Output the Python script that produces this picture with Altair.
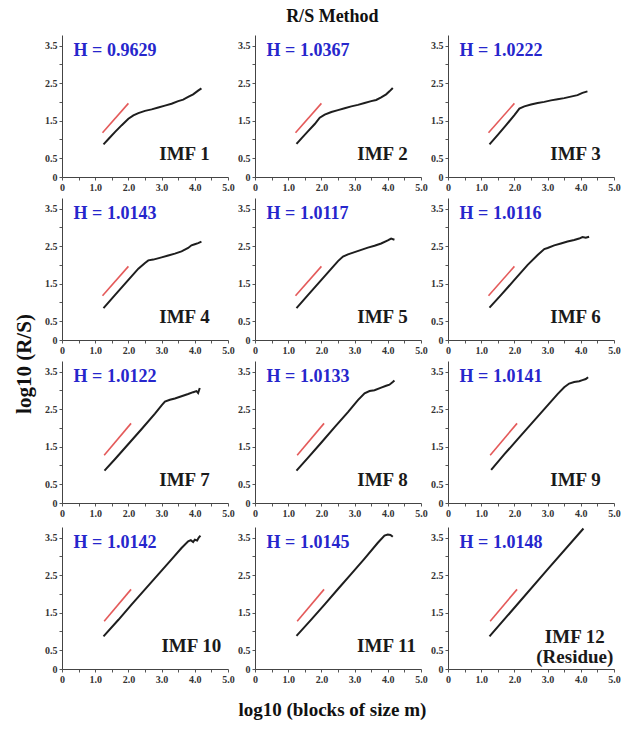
import altair as alt
import pandas as pd

FONT = "Liberation Serif"

h_values = ["0.9629", "1.0367", "1.0222", "1.0143", "1.0117", "1.0116",
            "1.0122", "1.0133", "1.0141", "1.0142", "1.0145", "1.0148"]
imf_labels = ["IMF 1", "IMF 2", "IMF 3", "IMF 4", "IMF 5", "IMF 6",
              "IMF 7", "IMF 8", "IMF 9", "IMF 10", "IMF 11", "IMF 12\n(Residue)"]

curve_x = [
    [1.25, 1.4, 1.6, 1.8, 2.0, 2.15, 2.3, 2.5, 2.7, 2.9, 3.1, 3.3, 3.5, 3.65, 3.8, 3.95, 4.1, 4.2],
    [1.25, 1.4, 1.6, 1.8, 1.95, 2.1, 2.3, 2.5, 2.7, 2.9, 3.1, 3.3, 3.5, 3.65, 3.8, 3.95, 4.05, 4.15],
    [1.25, 1.5, 1.75, 2.0, 2.15, 2.3, 2.5, 2.7, 2.9, 3.1, 3.3, 3.5, 3.7, 3.9, 4.05, 4.2],
    [1.25, 1.6, 2.0, 2.3, 2.5, 2.6, 2.75, 3.0, 3.2, 3.4, 3.6, 3.8, 3.9, 4.0, 4.1, 4.2],
    [1.25, 1.6, 2.0, 2.3, 2.5, 2.65, 2.8, 3.0, 3.2, 3.4, 3.6, 3.8, 4.0, 4.1, 4.2],
    [1.25, 1.6, 2.0, 2.4, 2.7, 2.9, 3.0, 3.2, 3.4, 3.6, 3.8, 3.95, 4.05, 4.15, 4.25],
    [1.28, 1.6, 2.0, 2.4, 2.8, 3.0, 3.1, 3.25, 3.4, 3.6, 3.8, 3.95, 4.05, 4.1, 4.15],
    [1.25, 1.6, 2.0, 2.4, 2.8, 3.1, 3.3, 3.45, 3.6, 3.8, 3.95, 4.05, 4.15, 4.2],
    [1.3, 1.7, 2.1, 2.5, 2.9, 3.3, 3.5, 3.65, 3.8, 3.95, 4.05, 4.15, 4.22],
    [1.25, 1.7, 2.1, 2.5, 2.9, 3.3, 3.6, 3.8, 3.88, 3.95, 4.0, 4.07, 4.12, 4.17],
    [1.25, 1.7, 2.1, 2.5, 2.9, 3.3, 3.7, 3.9, 4.0, 4.08, 4.15],
    [1.25, 2.0, 3.0, 4.08],
]
curve_y = [
    [0.87, 1.01, 1.2, 1.38, 1.55, 1.64, 1.7, 1.76, 1.8, 1.85, 1.9, 1.95, 2.02, 2.06, 2.13, 2.2, 2.3, 2.36],
    [0.88, 1.03, 1.22, 1.41, 1.58, 1.66, 1.73, 1.78, 1.83, 1.88, 1.92, 1.97, 2.02, 2.05, 2.12, 2.2, 2.28, 2.37],
    [0.87, 1.12, 1.38, 1.65, 1.82, 1.88, 1.93, 1.97, 2.0, 2.04, 2.07, 2.1, 2.14, 2.18, 2.24, 2.28],
    [0.85, 1.2, 1.6, 1.9, 2.05, 2.12, 2.14, 2.2, 2.25, 2.3, 2.36, 2.45, 2.52, 2.55, 2.58, 2.62],
    [0.85, 1.2, 1.6, 1.9, 2.1, 2.22, 2.28, 2.34, 2.4, 2.46, 2.51, 2.57, 2.65, 2.7, 2.67],
    [0.86, 1.2, 1.6, 2.0, 2.26, 2.42, 2.45, 2.52, 2.57, 2.62, 2.66, 2.7, 2.74, 2.72, 2.75],
    [0.86, 1.17, 1.57, 1.97, 2.38, 2.6, 2.7, 2.75, 2.78, 2.84, 2.9, 2.95, 2.98, 2.93, 3.06],
    [0.86, 1.21, 1.61, 2.02, 2.42, 2.74, 2.92, 2.98, 3.0, 3.07, 3.12, 3.15, 3.22, 3.26],
    [0.88, 1.3, 1.7, 2.1, 2.5, 2.9, 3.08, 3.18, 3.22, 3.24, 3.27, 3.3, 3.35],
    [0.87, 1.31, 1.72, 2.12, 2.52, 2.92, 3.22, 3.4, 3.43, 3.38, 3.44, 3.42, 3.5, 3.55],
    [0.88, 1.32, 1.72, 2.13, 2.53, 2.94, 3.36, 3.55, 3.58, 3.57, 3.52],
    [0.87, 1.63, 2.65, 3.74],
]
red_x = [[1.22, 2.0]] * 6 + [[1.27, 2.08]] * 6
red_y = [[1.18, 1.96]] * 6 + [[1.27, 2.12]] * 6

x_ticks = [0, 0.5, 1.0, 1.5, 2.0, 2.5, 3.0, 3.5, 4.0, 4.5, 5.0]
y_ticks = [0, 0.5, 1.0, 1.5, 2.0, 2.5, 3.0, 3.5]

W, H = 166, 142

XS = alt.Scale(domain=[0, 5], nice=False, zero=False)
YS = alt.Scale(domain=[0, 3.78], nice=False, zero=False)
XAX = alt.Axis(values=x_ticks, title=None, grid=False, labelOverlap=False,
               labelExpr="datum.value == 0 ? '0' : (datum.value % 1 == 0 ? format(datum.value, '.1f') : '')")
YAX = alt.Axis(values=y_ticks, title=None, grid=False, labelOverlap=False,
               labelExpr="datum.value == 0 ? '0' : (datum.value % 1 == 0.5 ? format(datum.value, '.1f') : '')")


def panel(i):
    cdf = pd.DataFrame({"x": curve_x[i], "y": curve_y[i]})
    rdf = pd.DataFrame({"x": red_x[i], "y": red_y[i]})
    black = alt.Chart(cdf).mark_line(color="#1e1e1e", strokeWidth=2).encode(
        x=alt.X("x:Q", scale=XS, axis=XAX), y=alt.Y("y:Q", scale=YS, axis=YAX))
    red = alt.Chart(rdf).mark_line(color="#e45a5a", strokeWidth=1.6).encode(
        x=alt.X("x:Q", scale=XS, axis=XAX), y=alt.Y("y:Q", scale=YS, axis=YAX))
    hdf = pd.DataFrame({"t": ["H = " + h_values[i]]})
    htext = alt.Chart(hdf).mark_text(font=FONT, fontSize=18, fontWeight="bold",
                                     color="#2626cc", align="left", baseline="middle").encode(
        x=alt.XDatum(0.35, type="quantitative", scale=XS, axis=XAX),
        y=alt.YDatum(3.35, type="quantitative", scale=YS, axis=YAX),
        text="t:N")
    row, col = divmod(i, 3)
    ldf = pd.DataFrame({"t": [imf_labels[i]]})
    if i == 11:
        ltext = alt.Chart(ldf).mark_text(font=FONT, fontSize=19, fontWeight="bold", color="#1a1a1a",
                                         align="center", baseline="middle", lineBreak="\n",
                                         lineHeight=20).encode(
            x=alt.XDatum(3.82, type="quantitative", scale=XS, axis=XAX),
            y=alt.YDatum(0.86, type="quantitative", scale=YS, axis=YAX),
            text="t:N")
    else:
        rx = 4.45 if col == 0 else 4.6
        if row == 3:
            rx = 4.8 if col == 0 else 4.85
        ltext = alt.Chart(ldf).mark_text(font=FONT, fontSize=19, fontWeight="bold", color="#1a1a1a",
                                         align="right", baseline="middle").encode(
            x=alt.XDatum(rx, type="quantitative", scale=XS, axis=XAX),
            y=alt.YDatum(0.6, type="quantitative", scale=YS, axis=YAX),
            text="t:N")
    return alt.layer(black, red, htext, ltext).properties(width=W, height=H)


panels = [panel(i) for i in range(12)]
rows = [alt.hconcat(*panels[r * 3:(r + 1) * 3], spacing=2) for r in range(4)]

grid = alt.vconcat(*rows, spacing=6).properties(
    title=alt.TitleParams("log10 (blocks of size m)", orient="bottom", anchor="middle",
                          font=FONT, fontSize=19, fontWeight="bold", color="#111", offset=17))
mid = alt.vconcat(grid).properties(
    title=alt.TitleParams("R/S Method", anchor="middle", font=FONT, fontSize=18,
                          fontWeight="bold", color="#111", offset=9))
chart = alt.hconcat(mid).properties(
    title=alt.TitleParams("log10 (R/S)", orient="left", anchor="middle", font=FONT, fontSize=21,
                          fontWeight="bold", color="#111", offset=10),
    padding={"left": 13, "top": 8, "right": 0, "bottom": 4},
    background="white",
).configure_view(stroke=None).configure_axis(
    domainColor="#444", tickColor="#555", tickSize=3, labelPadding=2,
    labelFont=FONT, labelFontWeight="bold", labelFontSize=10, labelColor="#333",
    labelOverlap=False, labelBound=False, labelFlush=False,
).configure_concat(spacing=0)

chart.save("out.html", embed_options={"renderer": "svg", "actions": False})
